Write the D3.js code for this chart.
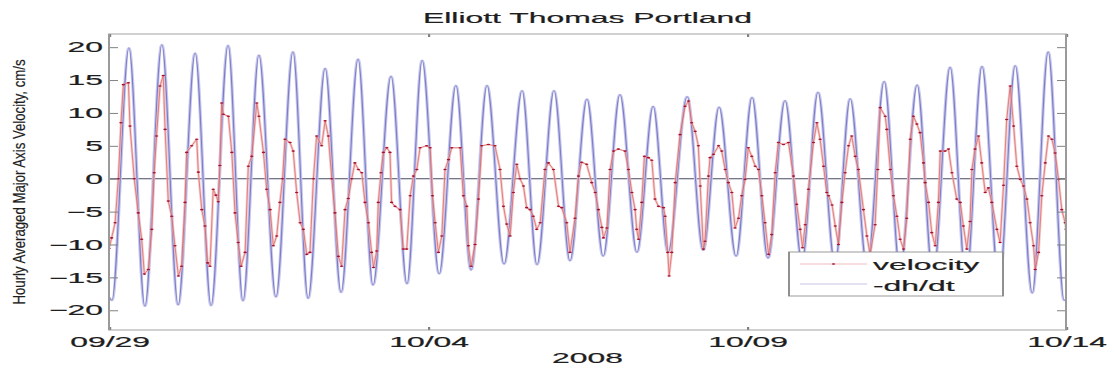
<!DOCTYPE html>
<html>
<head>
<meta charset="utf-8">
<script src="https://cdn.jsdelivr.net/npm/d3@7"></script>
<style>
  html, body { margin: 0; padding: 0; background: #fff; }
  svg { display: block; }
  text { font-family: "Liberation Sans", Arial, Helvetica, sans-serif; fill: #1e1e1e; stroke: #1e1e1e; stroke-width: 0.2; }
</style>
</head>
<body>
<div id="chart"></div>
<script>
// hours after 2008-09-29 00:00 UTC and values (cm/s)
const dhdtHour = [0, 1.1, 7.5, 13.5, 19.9, 26.0, 32.4, 38.4, 44.8, 50.4, 56.4, 62.8, 69.2, 74.9, 81.3, 87.3,
  93.7, 99.3, 106.1, 112.1, 117.8, 124.2, 130.5, 136.2, 142.2, 148.6, 155.4, 161.0, 167.4, 173.4, 179.8,
  185.9, 192.2, 198.6, 204.7, 210.3, 217.5, 223.5, 229.5, 235.9, 241.9, 247.9, 254.3, 260.7, 266.7,
  273.1, 278.8, 285.2, 291.6, 297.6, 304.0, 310.0, 316.4, 322.4, 328.4, 334.8, 340.9, 347.3, 353.3,
  359.3, 360];
const dhdtValue = [-18.0, -18.5, 19.9, -19.4, 20.4, -19.2, 19.1, -19.3, 20.3, -18.6, 18.8, -18.0, 19.3,
  -18.2, 16.8, -17.3, 18.2, -16.2, 15.6, -16.0, 18.0, -14.5, 14.2, -13.9, 14.2, -13.0, 13.4, -13.1, 13.4,
  -12.5, 12.1, -11.8, 12.8, -11.2, 11.0, -11.2, 12.5, -10.9, 10.9, -11.8, 12.4, -12.1, 11.9, -12.5, 13.2,
  -13.0, 12.2, -13.5, 14.8, -14.0, 14.3, -15.0, 17.0, -15.5, 17.1, -16.0, 17.2, -17.4, 19.3, -18.5, -18.3];

const velHour = [0, 1, 2.3, 3.5, 4.5, 5.4, 7.3, 7.9, 9.5, 11, 12.3, 13.3, 14.8, 16.1, 17, 17.9, 19.2, 20.4,
  21.1, 22.3, 23.6, 24.8, 26.1, 27.3, 28.6, 29.2, 31.1, 33, 33.6, 34.9, 36.1, 37.1, 38, 39.2, 40.2, 41.1,
  41.7, 42.4, 43, 44.9, 46.2, 47.4, 48.6, 49.7, 51.2, 52.4, 53.7, 55.6, 56.4, 58.1, 59.3, 60.6, 61.8, 63.1,
  64.3, 65.3, 66.2, 68.1, 69.3, 70.6, 71.9, 73.1, 74.4, 75.6, 76.9, 78.1, 80, 81.3, 82.5, 83.8, 85, 86.3,
  87.5, 88.8, 90, 91.3, 92.5, 93.8, 95.1, 96.3, 97.6, 98.8, 99.5, 100.7, 101.3, 102.3, 103.2, 104.5,
  105.7, 106.3, 107.6, 109.5, 110.7, 112, 113.3, 114.5, 115.8, 117, 119.5, 120.8, 121.7, 122.7, 123.9,
  125.2, 126.4, 127.7, 128.9, 132.1, 133.3, 134.6, 135.2, 136.2, 137.7, 139, 140.2, 142.7, 145.2, 147.1,
  148.4, 149.6, 150.9, 152.1, 153.4, 154.6, 155.9, 157.1, 158.4, 159.6, 160.9, 162.2, 164, 165.3, 167.2,
  169.1, 170.3, 172.2, 173.4, 175.3, 176.6, 177.8, 179.7, 181.6, 182.9, 184.1, 185.4, 186, 187.3, 188.5,
  189.8, 191.6, 194.1, 195.4, 196.7, 197.9, 198.5, 199.2, 200.4, 201.4, 202.9, 204.2, 205.4, 206.7, 208.6,
  209.2, 210.2, 210.7, 211.7, 213, 214.8, 216.7, 218, 219.2, 220.5, 221.7, 222.4, 223.6, 224.2, 225.5,
  226.1, 227.4, 229.3, 230.5, 231.8, 233, 234.3, 235.5, 236.8, 238, 239.3, 240.5, 241.8, 243.1, 244.3,
  245.6, 246.8, 248.1, 249.3, 250.6, 251.8, 253.7, 255.6, 257.5, 258.7, 260, 260.9, 261.9, 263.1, 265,
  266.3, 267.5, 268.8, 270, 270.7, 272, 273.2, 274.4, 275.7, 276.9, 278.2, 279.4, 280.7, 281.9, 283.8,
  285.1, 286.3, 288.2, 289.2, 290.1, 292, 292.6, 293.9, 295.1, 296.4, 297.6, 298.9, 300.1, 301.4, 302.6,
  303.9, 305.1, 306.4, 307, 308.3, 309.5, 310.8, 312, 312.7, 314.5, 315.8, 317.1, 318.9, 320.2, 321.4,
  322.7, 323.9, 324.6, 325.8, 327.1, 328.3, 329.6, 330.8, 332.1, 334, 335.2, 336.5, 337.7, 339, 340.3,
  341.5, 342.8, 344, 345.3, 346.5, 347.8, 348.4, 349.7, 350.9, 352.2, 353.4, 354.7, 355.9, 357.2, 358.4,
  359.7, 360];
const velValue = [-10.6, -9, -6.7, 0, 8.5, 14.3, 14.6, 8, 0, -5.2, -9.2, -14.5, -13.8, -7.7, 0.9, 6.5, 14.1,
  15.7, 7.5, -3.4, -5.7, -10.2, -14.8, -13.3, -3.6, 4, 5, 6, 1, -4.7, -7.2, -12.8, -13.3, -1.6, -2.5, -3.5,
  2, 11.5, 9.8, 9.5, 4, -5.2, -9.7, -13.3, -11.2, 1.9, 3.4, 11.5, 9.5, 4, -1.6, -4.7, -10.2, -8.7,
  -3.6, 0, 6, 5.5, 4.2, -2.1, -6.7, -7.7, -11.5, -11.2, 0, 6.5, 5, 8.8, 6.5, 0, -5.2, -11.8,
  -13.3, -4.7, -3, 0, 2.4, 1.4, 0.9, -3.6, -6.7, -11.2, -13.5, -11, -3.6, 0.9, 4, 4.7,
  4, -3.6, -4.2, -4.7, -10.7, -10.7, -2.6, 0.4, 1.4, 4.7, 5, 4.7, -2.6, -6.7, -11.2,
  -8.7, 1.4, 2.9, 4.7, 4.7, -2.6, -4.2, -10.2, -13.3, -10, -3.1, 5, 5.2, 5, 1.4,
  -4.2, -6.9, -8.7, -2.1, 2.2, 0, -1.1, -4.4, -4.7, -5.7, -7.7, -6.7, 1.4, 2.4, 1.4,
  -4.2, -4.4, -6.7, -11.2, -6, 0.4, 2.5, 2.2, -0.6, -2.1, -4.7, -7.4, -9, -7.5, 1.4,
  4.2, 4.5, 4.2, 1.4, -2.1, -4.7, -7.7, -9.2, -3.6, 3.4, 3.2, 2.8, -3.1, -4.2, -4.4,
  -5.7, -11.2, -14.8, -11.2, -0.6, 6.7, 11, 11.8, 8.5, 7.2, 5, -1.1, -10.7, -9.5, 0.4,
  3.2, 3.7, 5, 4.2, 1.4, -0.6, -2.1, -7.5, -6, -2.6, -0.1, 4.7, 3.4, 1.9, 1.4,
  -2.6, -6.7, -11.5, -8.5, 0.9, 5.5, 5.2, 5.5, 0.4, -3.9, -7.7, -10.5, -7, -1.6, 5.5,
  8.5, 6, 1.9, -2.1, -2.6, -4, -7.2, -10, -3.6, 0.9, 5, 6.5, 3.4, 1.4, -4.7,
  -8.7, -11.5, -7, 1.4, 10.8, 9.5, 7.5, 1.4, -2.6, -5.7, -9.2, -10.7, -6, 6, 9.5,
  8.3, 7, 2.4, -0.6, -3.6, -8.2, -10.2, -3.6, 4.2, 4.2, 4.5, 0.9, -3.1, -3.6, -7.2,
  -10.7, -6.5, 1.4, 4.5, 6.5, 2.4, -2.1, -1.4, -3.6, -7.7, -9.7, -1, 9, 14.1, 8,
  1.9, -0.1, -1.1, -3.1, -6.7, -10.2, -13.8, -11.2, -2.6, 2.4, 6.5, 6, 3.9, -0.1, -4.7,
  -6.7, -7.7];

const dateTicks = ['2008-09-29', '2008-10-04', '2008-10-09', '2008-10-14'];
const yTicks = [-20, -15, -10, -5, 0, 5, 10, 15, 20];
const titleText = 'Elliott Thomas Portland';
const xLabel = '2008';
const yLabel = 'Hourly Averaged Major Axis Velocity, cm/s';
const legendNames = ['velocity', '-dh/dt'];

const width = 1115;
const height = 375;
// the picture is stretched sideways, so the plot is drawn in a group scaled along x
const SX = 2.2;
const margin = {left: 109, right: 1066, top: 34, bottom: 330};
const fontSize = 14.5;

const t0 = Date.UTC(2008, 8, 29);
const toDate = h => new Date(t0 + h * 3600e3);

const x = d3.scaleUtc()
  .domain([toDate(0), toDate(360)])
  .range([margin.left / SX, margin.right / SX]);
const y = d3.scaleLinear()
  .domain([-23, 22])
  .range([margin.bottom, margin.top]);

const svg = d3.select('#chart').append('svg')
  .attr('width', width)
  .attr('height', height);
svg.append('rect').attr('width', width).attr('height', height).attr('fill', '#fff');

const g = svg.append('g').attr('transform', `scale(${SX},1)`);

g.append('clipPath').attr('id', 'plotclip')
  .append('rect')
  .attr('x', margin.left / SX).attr('y', margin.top)
  .attr('width', (margin.right - margin.left) / SX).attr('height', margin.bottom - margin.top);

const plotArea = g.append('g').attr('clip-path', 'url(#plotclip)');

// zero line
plotArea.append('line')
  .attr('x1', margin.left / SX).attr('x2', margin.right / SX)
  .attr('y1', y(0)).attr('y2', y(0))
  .attr('stroke', '#4a4a66').attr('stroke-width', 1);

const dhdt = d3.zip(dhdtHour, dhdtValue);
const vel = d3.zip(velHour, velValue);

const blueLine = d3.line()
  .x(d => x(toDate(d[0])))
  .y(d => y(d[1]))
  .curve(d3.curveMonotoneX);
const redLine = d3.line()
  .x(d => x(toDate(d[0])))
  .y(d => y(d[1]));

plotArea.append('path').datum(dhdt)
  .attr('d', blueLine).attr('fill', 'none')
  .attr('stroke', '#c8c8ec').attr('stroke-width', 1.5);
plotArea.append('path').datum(dhdt)
  .attr('d', blueLine).attr('fill', 'none')
  .attr('stroke', '#7c7cc8').attr('stroke-width', 0.5);

plotArea.append('path').datum(vel)
  .attr('d', redLine).attr('fill', 'none')
  .attr('stroke', '#f0b4b4').attr('stroke-opacity', 0.65).attr('stroke-width', 1.2);
plotArea.append('path').datum(vel)
  .attr('d', redLine).attr('fill', 'none')
  .attr('stroke', '#d85050').attr('stroke-width', 0.4);
plotArea.append('g').selectAll('circle')
  .data(vel)
  .join('circle')
  .attr('cx', d => x(toDate(d[0])))
  .attr('cy', d => y(d[1]))
  .attr('r', 0.8)
  .attr('fill', '#a8102c');

// axes
const tickDates = dateTicks.map(s => new Date(s + 'T00:00:00Z'));
const fmt = d3.utcFormat('%m/%d');

function styleAxis(sel) {
  sel.select('.domain').remove();
  sel.selectAll('.tick line').attr('stroke', '#808080');
  sel.selectAll('.tick text')
    .attr('font-size', fontSize)
    .attr('font-family', '"Liberation Sans", Arial, sans-serif')
    .attr('fill', '#1e1e1e');
}

g.append('g')
  .attr('transform', `translate(0,${margin.bottom})`)
  .call(d3.axisBottom(x).tickValues(tickDates).tickFormat(fmt).tickSize(-3).tickPadding(7))
  .call(styleAxis);
g.append('g')
  .attr('transform', `translate(0,${margin.top})`)
  .call(d3.axisTop(x).tickValues(tickDates).tickFormat('').tickSize(-3))
  .call(styleAxis);
g.append('g')
  .attr('transform', `translate(${margin.left / SX},0)`)
  .call(d3.axisLeft(y).tickValues(yTicks).tickSize(-9 / SX).tickPadding(6 / SX))
  .call(styleAxis);
g.append('g')
  .attr('transform', `translate(${margin.right / SX},0)`)
  .call(d3.axisRight(y).tickValues(yTicks).tickFormat('').tickSize(-9 / SX))
  .call(styleAxis);

// frame
g.append('rect')
  .attr('x', margin.left / SX).attr('y', margin.top)
  .attr('width', (margin.right - margin.left) / SX).attr('height', margin.bottom - margin.top)
  .attr('fill', 'none').attr('stroke', '#9a9a9a').attr('stroke-width', 0.9);

// legend
const lg = g.append('g');
lg.append('rect')
  .attr('x', 789 / SX).attr('y', 252)
  .attr('width', 214 / SX).attr('height', 44)
  .attr('fill', '#fff').attr('stroke', '#909090').attr('stroke-width', 0.9);
lg.append('line')
  .attr('x1', 800 / SX).attr('x2', 867 / SX).attr('y1', 264).attr('y2', 264)
  .attr('stroke', '#e07a7a').attr('stroke-width', 0.6);
lg.append('circle')
  .attr('cx', 833.5 / SX).attr('cy', 264).attr('r', 0.8).attr('fill', '#a8102c');
lg.append('line')
  .attr('x1', 800 / SX).attr('x2', 867 / SX).attr('y1', 284).attr('y2', 284)
  .attr('stroke', '#8a8acc').attr('stroke-width', 0.7);
lg.selectAll('text.leg')
  .data(legendNames)
  .join('text')
  .attr('class', 'leg')
  .attr('x', 873 / SX)
  .attr('y', (d, i) => 270.5 + i * 21)
  .attr('font-size', fontSize)
  .text(d => d);

// title and labels
g.append('text')
  .attr('x', (margin.left + margin.right) / 2 / SX).attr('y', 23)
  .attr('text-anchor', 'middle')
  .attr('font-size', fontSize)
  .text(titleText);
g.append('text')
  .attr('x', (margin.left + margin.right) / 2 / SX).attr('y', 363)
  .attr('text-anchor', 'middle')
  .attr('font-size', fontSize)
  .text(xLabel);

svg.append('text')
  .attr('transform', `translate(24.5,${(margin.top + margin.bottom) / 2}) rotate(-90) scale(0.825,1)`)
  .attr('text-anchor', 'middle')
  .attr('font-size', 16)
  .text(yLabel);
</script>
</body>
</html>
